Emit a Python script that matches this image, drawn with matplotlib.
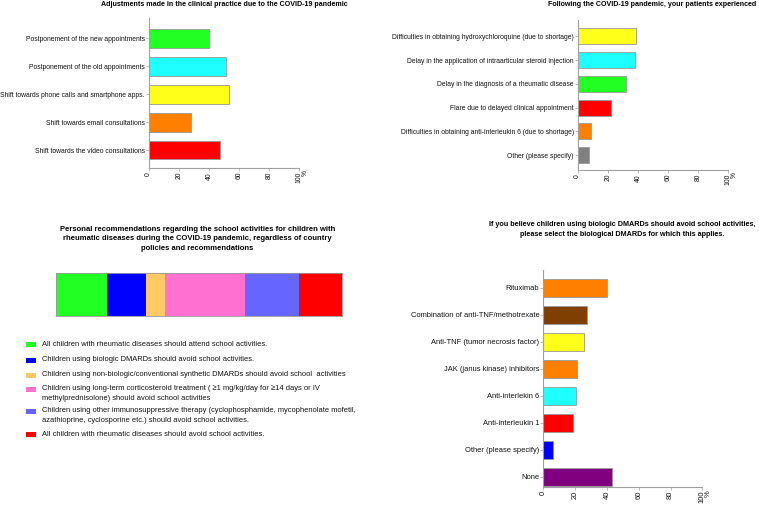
import matplotlib.pyplot as plt
from matplotlib.patches import Rectangle

plt.rcParams['font.family'] = ['Liberation Sans', 'DejaVu Sans']

W, H = 759, 508

# panel 1
adj_labels = ["Postponement of the new appointments", "Postponement of the old appointments",
              "Shift towards phone calls and smartphone apps.", "Shift towards email consultations",
              "Shift towards the video consultations"]
adj_values = [40, 51, 53, 28, 47.5]
adj_colors = ["#22ff22", "#1effff", "#ffff1a", "#ff8000", "#ff0000"]

# panel 2
exp_labels = ["Difficulties in obtaining hydroxychloroquine (due to shortage)",
              "Delay in the application of intraarticular steroid injection",
              "Delay in the diagnosis of a rheumatic disease",
              "Flare due to delayed clinical appointment",
              "Difficulties in obtaining anti-interleukin 6 (due to shortage)",
              "Other (please specify)"]
exp_values = [39, 38, 32, 22, 9, 7.5]
exp_colors = ["#ffff1a", "#1effff", "#22ff22", "#ff0000", "#ff8000", "#808080"]

# panel 3
rec_labels = ["All children with rheumatic diseases should attend school activities.",
              "Children using biologic DMARDs should avoid school activities.",
              "Children using non-biologic/conventional synthetic DMARDs should avoid school  activities",
              "Children using long-term corticosteroid treatment ( \u22651 mg/kg/day for \u226514 days or IV\nmethylprednisolone) should avoid school activities",
              "Children using other immunosuppressive therapy (cyclophosphamide, mycophenolate mofetil,\nazathioprine, cyclosporine etc.) should avoid school activities.",
              "All children with rheumatic diseases should avoid school activities."]
rec_values = [18.0, 13.5, 6.6, 28.2, 18.7, 15.0]
rec_colors = ["#22ff22", "#0000ff", "#ffc966", "#ff70d0", "#6666ff", "#ff0000"]

# panel 4
bio_labels = ["Rituximab", "Combination of anti-TNF/methotrexate", "Anti-TNF (tumor necrosis factor)",
              "JAK (janus kinase) inhibitors", "Anti-interlekin 6", "Anti-interleukin 1",
              "Other (please specify)", "None"]
bio_values = [40, 27.5, 25.3, 21, 20.4, 18.5, 6.3, 43]
bio_colors = ["#ff8000", "#7f3f00", "#ffff1a", "#ff8000", "#1effff", "#ff0000", "#0000ff", "#800080"]

AX_COL = "#a0a0a0"

fig = plt.figure(figsize=(W / 100, H / 100), dpi=100)


def px_axes(x0, x1, y0, y1):
    return fig.add_axes([x0 / W, 1 - y1 / H, (x1 - x0) / W, (y1 - y0) / H])


def hbar_panel(ax, labels, values, colors, top_pad, bot_pad, fs):
    n = len(labels)
    ax.barh(range(n), values, height=0.68, color=colors, edgecolor="#999999", linewidth=0.6)
    ax.set_ylim(n - 1 + bot_pad, -top_pad)
    ax.set_xlim(0, 100)
    ax.set_yticks(range(n))
    ax.set_yticklabels(labels, fontsize=fs)
    ax.set_xticks([0, 20, 40, 60, 80, 100])
    ax.set_xticklabels(["0", "20", "40", "60", "80", "100"], fontsize=fs, rotation=90)
    ax.tick_params(length=2, width=0.5, color=AX_COL, pad=0.8, labelcolor="#111111")
    for s in ["top", "right"]:
        ax.spines[s].set_visible(False)
    for s in ["left", "bottom"]:
        ax.spines[s].set_color(AX_COL)
        ax.spines[s].set_linewidth(0.8)
    ax.text(1.04, -0.015, "%", transform=ax.transAxes, fontsize=fs, rotation=90,
            ha="center", va="top", color="#111111")


ax1 = px_axes(148.7, 299.3, 18, 168)
hbar_panel(ax1, adj_labels, adj_values, adj_colors, 0.735, 0.645, 4.85)
fig.text(224 / W, 1 - 4.5 / H, "Adjustments made in the clinical practice due to the COVID-19 pandemic",
         fontsize=5.1, fontweight="bold", ha="center", va="center")

ax2 = px_axes(577.7, 728.3, 20, 170)
hbar_panel(ax2, exp_labels, exp_values, exp_colors, 0.69, 0.63, 4.85)
fig.text(652 / W, 1 - 5 / H, "Following the COVID-19 pandemic, your patients experienced",
         fontsize=5.1, fontweight="bold", ha="center", va="center")

ax4 = px_axes(543.3, 702.3, 270, 487)
hbar_panel(ax4, bio_labels, bio_values, bio_colors, 0.655, 0.38, 5.4)
fig.text(622 / W, 1 - 229.5 / H,
         "If you believe children using biologic DMARDs should avoid school activities,\n"
         "please select the biological DMARDs for which this applies.",
         fontsize=5.2, fontweight="bold", ha="center", va="center", linespacing=1.4)

# stacked bar
ax3 = px_axes(56, 341.7, 272.7, 315.7)
left = 0
for v, c in zip(rec_values, rec_colors):
    ax3.barh(0, v, left=left, height=1, color=c, edgecolor="none")
    left += v
ax3.set_xlim(0, sum(rec_values))
ax3.set_ylim(-0.5, 0.5)
ax3.set_xticks([])
ax3.set_yticks([])
for s in ax3.spines.values():
    s.set_color("#999999")
    s.set_linewidth(0.6)
fig.text(197.5 / W, 1 - 239 / H,
         "Personal recommendations regarding the school activities for children with\n"
         "rheumatic diseases during the COVID-19 pandemic, regardless of country\n"
         "policies and recommendations",
         fontsize=5.5, fontweight="bold", ha="center", va="center", linespacing=1.55)

# legend
row_y = [344.5, 360, 375, 389.5, 411.5, 434.5]
for y, lab, c in zip(row_y, rec_labels, rec_colors):
    fig.patches.append(Rectangle((26 / W, 1 - (y + 2.5) / H), 10 / W, 5 / H,
                                 transform=fig.transFigure, facecolor=c, edgecolor="none"))
    fig.text(42 / W, 1 - (y - 4) / H, lab, fontsize=5.45, ha="left", va="top",
             linespacing=1.4, color="#111111")

fig.savefig("out.png", dpi=100)
